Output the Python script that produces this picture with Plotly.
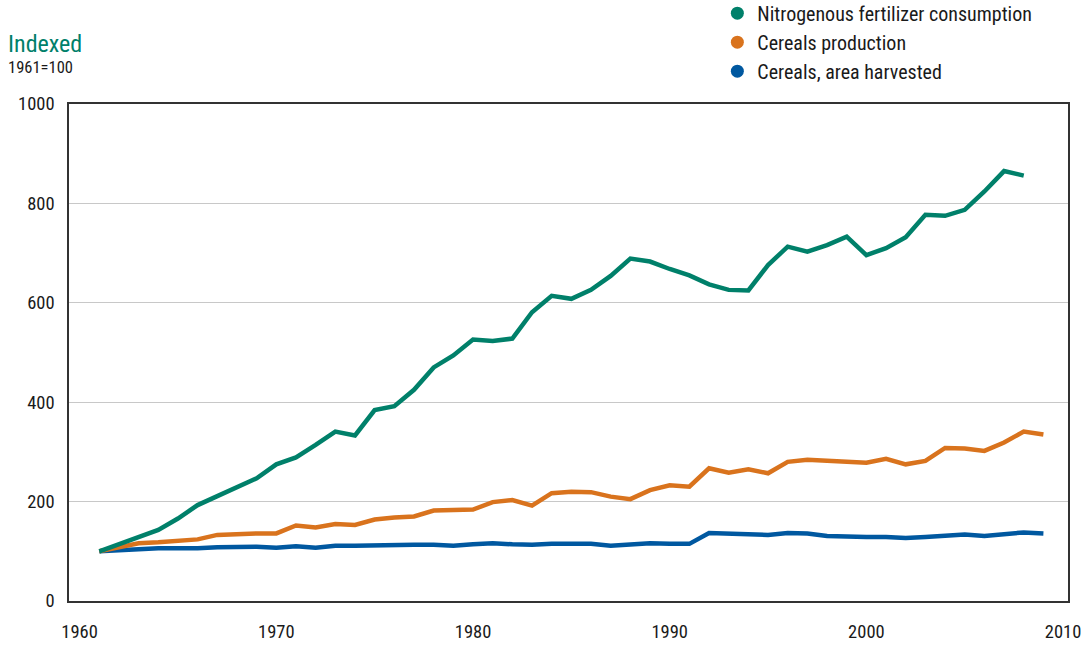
import plotly.graph_objects as go

years_n = list(range(1961, 2009))
nitrogen = [100, 115, 129, 143, 166, 193, 211, 229, 247, 275, 289, 314, 341, 333, 384, 392,
            425, 470, 494, 526, 523, 528, 581, 614, 608, 626, 654, 689, 683, 668, 655, 637,
            626, 625, 676, 713, 703, 716, 733, 696, 710, 732, 777, 775, 787, 824, 865, 856]

years_c = list(range(1961, 2010))
cereal_prod = [100, 108, 116, 118, 121, 124, 133, 135, 136, 136, 152, 148, 155, 153, 164, 168,
               170, 182, 182, 184, 199, 203, 192, 217, 220, 219, 210, 205, 223, 233, 230, 267,
               258, 265, 257, 280, 284, 282, 282, 278, 286, 275, 282, 308, 307, 302, 319, 341, 335]
cereal_area = [100, 101, 104, 106, 105, 106, 108, 109, 109, 107, 110, 107, 111, 111, 112, 114,
               113, 113, 111, 114, 116, 114, 113, 115, 116, 115, 111, 113, 116, 115, 115, 137,
               135, 135, 133, 137, 136, 131, 129, 129, 129, 127, 129, 131, 134, 131, 135, 138, 136]

names = ["Nitrogenous fertilizer consumption", "Cereals production", "Cereals, area harvested"]
colors = ["#00806a", "#d9731d", "#0058a0"]

y_ticks = [0, 200, 400, 600, 800, 1000]
x_ticks = [1960, 1970, 1980, 1990, 2000, 2010]

FONT = "Roboto Condensed, Liberation Sans Narrow, DejaVu Sans Condensed, Arial Narrow, sans-serif"

fig = go.Figure()
series = [(years_c, cereal_area, 2), (years_c, cereal_prod, 1), (years_n, nitrogen, 0)]
for xs, ys, i in series:
    fig.add_trace(go.Scatter(x=xs, y=ys, mode="lines", line=dict(color=colors[i], width=4.5),
                             showlegend=False, hoverinfo="x+y", name=names[i]))
for i in range(3):
    fig.add_trace(go.Scatter(x=[None], y=[None], mode="markers", name=names[i],
                             marker=dict(color=colors[i], size=13, symbol="circle")))

fig.update_layout(
    width=1091, height=645, autosize=False,
    margin=dict(l=69, r=23, t=104, b=44, pad=0, autoexpand=False),
    paper_bgcolor="white", plot_bgcolor="white",
    font=dict(family=FONT, size=18.5, color="#1a1a1a"),
    legend=dict(x=0.649, y=1.222, xanchor="left", yanchor="top",
                font=dict(size=20, color="#1a1a1a"), bgcolor="rgba(0,0,0,0)",
                traceorder="normal", itemwidth=30, tracegroupgap=0),
    xaxis=dict(range=[1959.46, 2010.25], tickvals=x_ticks, ticktext=[str(t) for t in x_ticks],
               showgrid=False, zeroline=False, showline=True, linecolor="#333333", linewidth=1.5,
               mirror=True, ticks="", ticklen=0, tickfont=dict(size=18.5), ticklabelstandoff=13),
    yaxis=dict(range=[0, 1000], tickvals=y_ticks, showgrid=True, gridcolor="#c8c8c8", gridwidth=1,
               zeroline=False, showline=True, linecolor="#333333", linewidth=1.5, mirror=True,
               ticks="", tickfont=dict(size=18.5), ticklabelstandoff=9),
    annotations=[
        dict(text="Indexed", xref="paper", yref="paper", x=-0.063, y=1.1215, xanchor="left",
             yanchor="middle", showarrow=False, font=dict(size=24, color="#00806a")),
        dict(text="1961=100", xref="paper", yref="paper", x=-0.063, y=1.073, xanchor="left",
             yanchor="middle", showarrow=False, font=dict(size=16.5, color="#1a1a1a")),
    ],
)

fig.write_html("out.html", config={"displayModeBar": False},
               post_script="document.body.style.margin='0';document.body.style.overflow='hidden';")
